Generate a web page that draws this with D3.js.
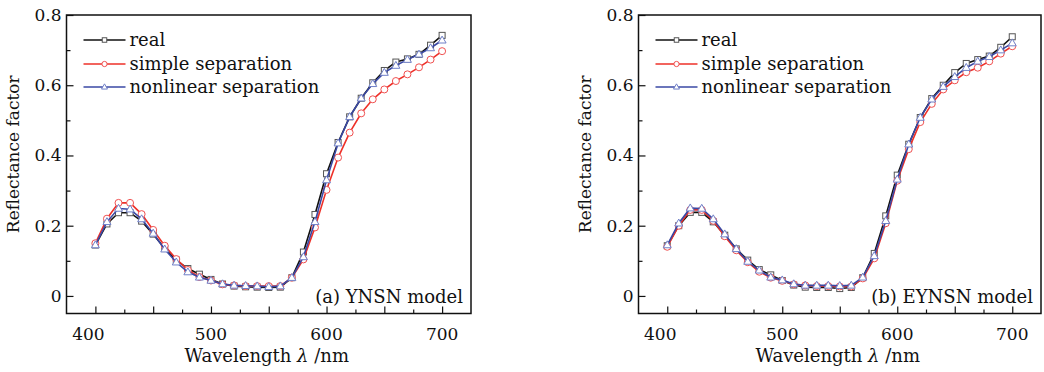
<!DOCTYPE html>
<html><head><meta charset="utf-8">
<script src="https://cdn.jsdelivr.net/npm/d3@7"></script>
<style>
html,body{margin:0;padding:0;background:#fff;}
svg{display:block;}
text{font-family:"DejaVu Serif",serif;fill:#111;}
</style></head>
<body><svg id="chart" width="1044" height="372"></svg>
<script>
const wavelengths = [400,410,420,430,440,450,460,470,480,490,500,510,520,530,540,550,560,570,580,590,600,610,620,630,640,650,660,670,680,690,700];
const seriesNames = ["real","simple separation","nonlinear separation"];
const xTickLabels = [400,500,600,700];
const yTickLabels = [0,0.2,0.4,0.6,0.8];
const panelTitles = ["(a) YNSN model","(b) EYNSN model"];

const realA = [0.145,0.205,0.237,0.237,0.213,0.176,0.135,0.102,0.078,0.062,0.047,0.034,0.028,0.026,0.025,0.024,0.025,0.052,0.125,0.232,0.348,0.437,0.51,0.563,0.607,0.642,0.666,0.675,0.688,0.714,0.742];
const simpleA = [0.15,0.22,0.265,0.265,0.233,0.188,0.143,0.105,0.074,0.054,0.044,0.033,0.03,0.028,0.028,0.028,0.028,0.052,0.104,0.195,0.302,0.394,0.465,0.52,0.56,0.588,0.612,0.631,0.651,0.673,0.697];
const nonlinA = [0.145,0.211,0.249,0.247,0.219,0.178,0.133,0.096,0.068,0.053,0.044,0.034,0.03,0.029,0.028,0.026,0.028,0.052,0.111,0.211,0.33,0.435,0.51,0.563,0.604,0.636,0.656,0.673,0.688,0.706,0.728];

const realB = [0.143,0.2,0.238,0.238,0.211,0.173,0.134,0.102,0.075,0.06,0.044,0.031,0.025,0.024,0.024,0.021,0.024,0.052,0.121,0.228,0.344,0.432,0.508,0.562,0.6,0.636,0.662,0.673,0.683,0.708,0.738];
const simpleB = [0.14,0.2,0.245,0.245,0.214,0.17,0.13,0.096,0.069,0.052,0.043,0.033,0.03,0.028,0.028,0.027,0.027,0.05,0.107,0.207,0.328,0.418,0.495,0.547,0.588,0.614,0.637,0.65,0.668,0.69,0.711];
const nonlinB = [0.145,0.207,0.25,0.249,0.219,0.176,0.134,0.098,0.073,0.053,0.045,0.034,0.03,0.03,0.03,0.029,0.03,0.053,0.114,0.214,0.332,0.432,0.508,0.56,0.596,0.624,0.65,0.668,0.681,0.7,0.72];

const panels = [
  {left:66.5, right:471, title:panelTitles[0], data:[realA,simpleA,nonlinA]},
  {left:638.5, right:1041, title:panelTitles[1], data:[realB,simpleB,nonlinB]}
];
const plotTop = 15, plotBottom = 313.5;
const lineColors = ["#111","#ee3028","#3a48a4"];
const markColors = ["#555","#f05050","#7080c8"];

const svg = d3.select("#chart");

function drawMarkers(sel, pts, si, scale=1){
  pts.forEach(([px,py])=>{
    if(si===0){
      const s=6*scale;
      sel.append("rect").attr("x",px-s/2).attr("y",py-s/2).attr("width",s).attr("height",s)
        .attr("fill","#fff").attr("stroke",markColors[0]).attr("stroke-width",1);
    } else if(si===1){
      sel.append("circle").attr("cx",px).attr("cy",py).attr("r",3.5*scale)
        .attr("fill","#fff").attr("stroke",markColors[1]).attr("stroke-width",1);
    } else {
      const s=4.2*scale;
      sel.append("path").attr("d",`M${px},${py-s} L${px+s*0.95},${py+s*0.65} L${px-s*0.95},${py+s*0.65}Z`)
        .attr("fill","#fff").attr("stroke",markColors[2]).attr("stroke-width",1);
    }
  });
}

panels.forEach(p => {
  const x = d3.scaleLinear().domain([375,725]).range([p.left,p.right]);
  const y = d3.scaleLinear().domain([-0.05,0.8]).range([plotBottom,plotTop]);
  const g = svg.append("g");

  const xAxisMinor = d3.axisTop(x).tickValues(d3.range(400,701,25).filter(v=>v%50!==0)).tickSize(4).tickFormat("");
  const xAxisMajor = d3.axisTop(x).tickValues(d3.range(400,701,50)).tickSize(7).tickFormat("");
  [xAxisMinor,xAxisMajor].forEach(ax=>{
    const a = g.append("g").attr("transform",`translate(0,${plotBottom})`).call(ax);
    a.select(".domain").remove();
    a.selectAll("line").attr("stroke","#111").attr("stroke-width",1.2);
  });
  const yAxisMinor = d3.axisRight(y).tickValues([0.1,0.3,0.5,0.7]).tickSize(4).tickFormat("");
  const yAxisMajor = d3.axisRight(y).tickValues(yTickLabels).tickSize(7).tickFormat("");
  [yAxisMinor,yAxisMajor].forEach(ax=>{
    const a = g.append("g").attr("transform",`translate(${p.left},0)`).call(ax);
    a.select(".domain").remove();
    a.selectAll("line").attr("stroke","#111").attr("stroke-width",1.2);
  });

  g.selectAll(".xl").data(xTickLabels).enter().append("text")
    .attr("x",d=>x(d)).attr("dx",(d,i)=>i===0?-7:0).attr("y",plotBottom+26).attr("text-anchor","middle")
    .attr("font-size",17).text(d=>d);
  g.selectAll(".yl").data(yTickLabels).enter().append("text")
    .attr("x",p.left-5).attr("y",d=>y(d)+6).attr("text-anchor","end")
    .attr("font-size",17).text(d=>d===0?"0":d3.format(".1f")(d));

  g.append("rect").attr("x",p.left).attr("y",plotTop).attr("width",p.right-p.left).attr("height",plotBottom-plotTop)
    .attr("fill","none").attr("stroke","#111").attr("stroke-width",1.5);

  const xt = g.append("text").attr("x",(p.left+p.right)/2-2).attr("y",362).attr("text-anchor","middle").attr("font-size",18);
  xt.append("tspan").text("Wavelength ");
  xt.append("tspan").attr("font-style","italic").text("λ");
  xt.append("tspan").text(" /nm");
  g.append("text").attr("transform",`translate(${p.left-48},${(plotTop+plotBottom)/2-10}) rotate(-90)`)
    .attr("text-anchor","middle").attr("font-size",17).text("Reflectance factor");

  const line = d3.line().x((d,i)=>x(wavelengths[i])).y(d=>y(d));
  p.data.forEach((vals,si)=>{
    const sg = g.append("g");
    sg.append("path").datum(vals).attr("d",line).attr("fill","none")
      .attr("stroke",lineColors[si]).attr("stroke-width",1.6);
    drawMarkers(sg, vals.map((v,i)=>[x(wavelengths[i]),y(v)]), si);
  });

  const lx = p.left+17, ly = [40,64,87];
  seriesNames.forEach((nm,si)=>{
    g.append("line").attr("x1",lx).attr("x2",lx+42).attr("y1",ly[si]).attr("y2",ly[si])
      .attr("stroke",lineColors[si]).attr("stroke-width",1.6);
    drawMarkers(g,[[lx+21,ly[si]]],si,0.75);
    g.append("text").attr("x",lx+46).attr("y",ly[si]+6).attr("font-size",18).text(nm);
  });

  g.append("text").attr("x",p.right-8).attr("y",plotBottom-11).attr("text-anchor","end")
    .attr("font-size",18).text(p.title);
});
</script></body></html>
